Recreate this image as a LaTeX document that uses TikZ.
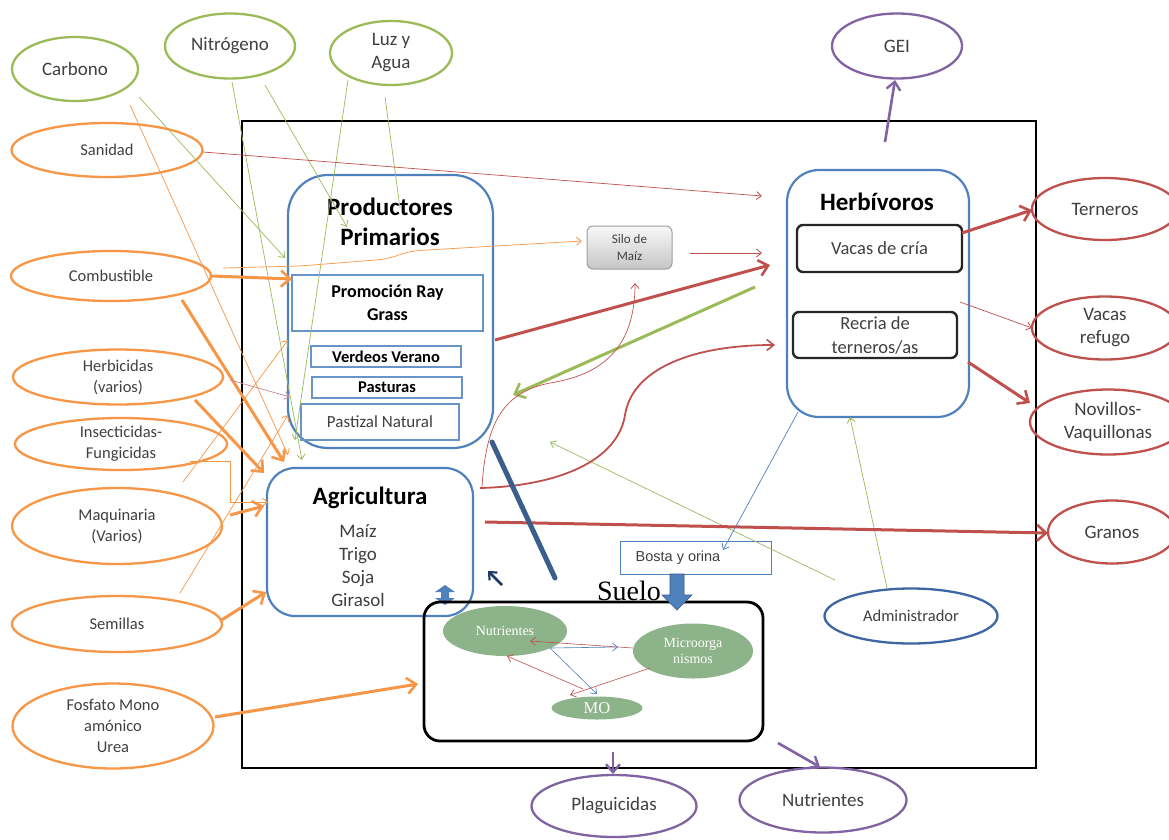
\documentclass[tikz,border=0pt]{standalone}
\usepackage{fontspec}
\setmainfont{Carlito}
\newfontfamily\serifx{Liberation Serif}
\newfontfamily\arialx{Liberation Sans}
\usetikzlibrary{shapes.geometric,arrows.meta,calc}
\definecolor{cgreen}{HTML}{9BBB59}
\definecolor{corange}{HTML}{F79646}
\definecolor{cpurple}{HTML}{8064A2}
\definecolor{cred}{HTML}{C0504D}
\definecolor{cblue}{HTML}{4F81BD}
\definecolor{cadmin}{HTML}{3E66A3}
\definecolor{csoil}{HTML}{8DB38A}
\definecolor{ctext}{HTML}{404040}
\definecolor{cnavy}{HTML}{1F3864}
\definecolor{csteel}{HTML}{3B5E8C}
\definecolor{cmauve}{HTML}{C58A97}
\begin{document}
\begin{tikzpicture}[x=1pt,y=-1pt,
  ell/.style={ellipse,draw,line width=2.3pt,inner sep=0pt},
  gell/.style={ell,draw=cgreen},
  oell/.style={ell,draw=corange},
  pell/.style={ell,draw=cpurple},
  rell/.style={ell,draw=cred},
  lab/.style={align=center,text=ctext,inner sep=0pt},
  glab/.style={lab,font=\fontsize{19}{23}\selectfont},
  olab/.style={lab,font=\fontsize{16.5}{21}\selectfont},
  rbox/.style={draw=cblue,line width=2.2pt,inner sep=0pt},
  ibox/.style={draw=cblue!85,line width=1.4pt,inner sep=0pt},
  kbox/.style={draw=black!85,line width=2.4pt,rounded corners=6pt,inner sep=0pt},
  tarr/.style={line width=0.7pt,-{Straight Barb[length=5pt,width=8pt,line width=0.8pt]}},
  marr/.style={line width=1.8pt,-{Straight Barb[length=7pt,width=11pt,line width=1.6pt]}},
  parr/.style={line width=2.6pt,-{Straight Barb[length=8pt,width=14pt,line width=2.4pt]}},
  karr/.style={line width=3pt,-{Straight Barb[length=9pt,width=16pt,line width=2.6pt]}},
  sarr/.style={line width=0.6pt,-{Straight Barb[length=5pt,width=8pt,line width=0.7pt]}}
]
\path[use as bounding box,fill=white] (0,0) rectangle (1169,839);

% frame
\node[draw,line width=2.5pt,minimum width=794pt,minimum height=647pt,inner sep=0pt] (frame) at (639,444.5) {};

% green inputs
\node[gell,minimum width=126pt,minimum height=64pt] (carb) at (75,69) {};
\node[glab] (carbt) at (carb) {Carbono};
\node[gell,minimum width=130pt,minimum height=65pt] (nitro) at (230,46) {};
\node[glab] (nitrot) at (nitro) {Nitrógeno};
\node[gell,minimum width=122pt,minimum height=64pt] (luz) at (391,53) {};
\node[glab] (luzt) at (luz) {Luz y\\Agua};

% orange inputs
\node[oell,minimum width=191pt,minimum height=54pt] (san) at (107,150) {};
\node[olab] (sant) at (san) {Sanidad};
\node[oell,minimum width=200pt,minimum height=50pt] (comb) at (111,276) {};
\node[olab] (combt) at (comb) {Combustible};
\node[oell,minimum width=210pt,minimum height=55pt] (herb) at (118,377) {};
\node[olab] (herbt) at (herb) {Herbicidas\\(varios)};
\node[oell,minimum width=212pt,minimum height=52pt] (insect) at (121,444) {};
\node[olab] (insectt) at (insect) {Insecticidas-\\Fungicidas};
\node[oell,minimum width=210pt,minimum height=76pt] (maq) at (117,526) {};
\node[olab] (maqt) at (maq) {Maquinaria\\(Varios)};
\node[oell,minimum width=210pt,minimum height=56pt] (sem) at (117,624) {};
\node[olab] (semt) at (sem) {Semillas};
\node[oell,minimum width=201pt,minimum height=85pt] (fosf) at (113,726) {};
\node[olab] (fosft) at (fosf) {Fosfato Mono\\amónico\\Urea};

% purple outputs
\node[pell,minimum width=130pt,minimum height=65pt] (gei) at (897,46) {};
\node[glab] (geit) at (gei) {GEI};
\node[pell,minimum width=165pt,minimum height=62pt] (plag) at (614,806) {};
\node[glab] (plagt) at (plag) {Plaguicidas};
\node[pell,minimum width=167pt,minimum height=65pt] (nutr) at (823,800) {};
\node[glab] (nutrt) at (nutr) {Nutrientes};

% red outputs
\node[rell,minimum width=146pt,minimum height=62pt] (tern) at (1105,209) {};
\node[glab] (ternt) at (tern) {Terneros};
\node[rell,minimum width=146pt,minimum height=63pt] (refugo) at (1105,328) {};
\node[glab] (refugot) at (refugo) {Vacas\\refugo};
\node[rell,minimum width=156pt,minimum height=65pt] (novi) at (1108,422) {};
\node[glab] (novit) at (novi) {Novillos-\\Vaquillonas};
\node[rell,minimum width=128pt,minimum height=63pt] (granos) at (1112,532) {};
\node[glab] (granost) at (granos) {Granos};

% administrador
\node[ell,draw=cadmin,minimum width=173pt,minimum height=55pt] (admin) at (911,616) {};
\node[olab] (admint) at (admin) {Administrador};

% Productores primarios
\node[rbox,rounded corners=40pt,minimum width=205pt,minimum height=273pt] (pp) at (390.5,311.5) {};
\node[align=center,font=\bfseries\fontsize{25}{30}\selectfont,inner sep=0pt] (ppt) at (390,222) {Productores\\Primarios};
\node[ibox,minimum width=191pt,minimum height=56pt,align=center,font=\bfseries\fontsize{18}{23}\selectfont] (promo) at (387.5,303) {Promoción Ray\\Grass};
\node[ibox,minimum width=150pt,minimum height=21pt,font=\bfseries\fontsize{16.5}{20}\selectfont] (verd) at (386,356.5) {Verdeos Verano};
\node[ibox,minimum width=150pt,minimum height=21pt,font=\bfseries\fontsize{16.5}{20}\selectfont] (past) at (387,387.5) {Pasturas};
\node[ibox,minimum width=158pt,minimum height=36pt,font=\fontsize{17}{20}\selectfont,text=ctext] (pastn) at (380,422) {Pastizal Natural};

% Herbivoros
\node[rbox,rounded corners=32pt,minimum width=182pt,minimum height=247pt] (herbi) at (878,293.5) {};
\node[font=\bfseries\fontsize{25}{30}\selectfont,inner sep=0pt] (herbit) at (877,202) {Herbívoros};
\node[kbox,minimum width=165pt,minimum height=47pt,font=\fontsize{18.5}{22}\selectfont,text=ctext] (vacas) at (879.5,248.5) {Vacas de cría};
\node[kbox,minimum width=164pt,minimum height=46pt,align=center,font=\fontsize{18.5}{24}\selectfont,text=ctext] (recria) at (875,335) {Recria de\\terneros/as};

% Silo
\node[draw=gray!75,line width=1pt,rounded corners=6pt,top color=gray!5,bottom color=gray!45,minimum width=85pt,minimum height=43pt,align=center,inner sep=0pt,font=\fontsize{13}{17}\selectfont,text=ctext] (silo) at (629.5,247.5) {Silo de\\Maíz};

% Agricultura
\node[rbox,rounded corners=28pt,minimum width=206pt,minimum height=148pt] (agri) at (370,542) {};
\node[font=\bfseries\fontsize{25}{30}\selectfont,inner sep=0pt] (agrit) at (370,498) {Agricultura};
\node[align=center,font=\fontsize{19}{23}\selectfont,text=ctext,inner sep=0pt] (crops) at (358,565.5) {Maíz\\Trigo\\Soja\\Girasol};
\fill[cblue] (435,592) -- (445,585) -- (455,592) -- (449,592) -- (449,598) -- (455,598) -- (445,605) -- (435,598) -- (441,598) -- (441,592) -- cycle;

% Bosta y orina
\node[draw=cblue,line width=0.8pt,minimum width=151pt,minimum height=33pt,inner sep=0pt] (bosta) at (695.5,557.5) {};
\node[font=\arialx\fontsize{14.5}{17}\selectfont,text=ctext,inner sep=0pt] (bostat) at (678,558) {Bosta y orina};

% Suelo
\node[draw,line width=2.8pt,rounded corners=16pt,minimum width=339pt,minimum height=139pt,inner sep=0pt] (suelo) at (593.5,671.5) {};
\node[font=\serifx\fontsize{28}{30}\selectfont,inner sep=0pt] (suelot) at (629,591) {Suelo};
\node[ellipse,fill=csoil,minimum width=124pt,minimum height=50pt,inner sep=0pt,text=white,font=\serifx\fontsize{14}{16}\selectfont] (sn) at (505,631) {Nutrientes};
\node[ellipse,fill=csoil,minimum width=120pt,minimum height=55pt,inner sep=0pt] (sm) at (693,651) {};
\node[align=center,text=white,font=\serifx\fontsize{14}{16}\selectfont,inner sep=0pt] (smt) at (sm) {Microorga\\nismos};
\node[ellipse,fill=csoil,minimum width=91pt,minimum height=23pt,inner sep=0pt,text=white,font=\serifx\fontsize{16.5}{18}\selectfont] (smo) at (597,708) {MO};

% block arrow Bosta -> Suelo
\fill[cblue,draw=cblue!70!black,line width=0.6pt] (670,574) -- (684,574) -- (684,595) -- (692,595) -- (677,610) -- (662,595) -- (670,595) -- cycle;

% soil internal arrows
\draw[sarr,cred] ($(sm)+(-60,-3)$) -- ($(sn)+(25,10)$);
\draw[sarr,cblue] ($(sn)+(45,17)$) -- ($(sm)+(-75,-4)$);
\draw[sarr,cblue] ($(sn)+(45,17)$) -- ($(smo)+(0,-14)$);
\draw[sarr,cred] ($(smo)+(-14,-19)$) -- ($(sn)+(2,25)$);
\draw[sarr,cred,{Straight Barb[length=5pt,width=8pt,line width=0.7pt]}-] ($(smo)+(-27,-13)$) -- ($(sm)+(-43,17)$);

% green connectors
\draw[tarr,cgreen] ($(carb)+(64,28)$) -- ($(pp)+(-105.5,-53.5)$);
\draw[tarr,cgreen] ($(nitro)+(2,36)$) -- ($(agri)+(-68,-82)$);
\draw[tarr,cgreen] ($(nitro)+(35,39)$) -- ($(pp)+(-43.5,-84.5)$);
\draw[tarr,cgreen] ($(luz)+(-43,27)$) -- ($(pp)+(-95.5,128.5)$);
\draw[line width=0.7pt,cgreen] ($(luz)+(-6,44)$) -- ($(pp)+(9.5,-103.5)$);
\draw[karr,cgreen] ($(herbi)+(-123,-6.5)$) -- ($(pp)+(122.5,83.5)$);
\draw[tarr,cgreen] ($(admin)+(-24,-28)$) -- ($(herbi)+(-28,123.5)$);
\coordinate (g8end) at (550,442);
\draw[tarr,cgreen] ($(admin)+(-76,-36)$) -- (g8end);

% orange connectors
\draw[tarr,corange] ($(carb)+(55,36)$) -- ($(agri)+(-82,-87)$);
\draw[karr,corange] ($(comb)+(101,0)$) -- ($(pp)+(-98.5,-32.5)$);
\draw[karr,corange] ($(comb)+(71,24)$) -- ($(agri)+(-86,-80)$);
\draw[karr,corange] ($(herb)+(77,23)$) -- ($(agri)+(-106,-69)$);
\draw[tarr,corange] ($(insect)+(62,38)$) -- ($(pp)+(-102.5,28.5)$);
\coordinate (o7s) at (180,593);
\draw[tarr,corange] (o7s) -- ($(pp)+(-102.5,103.5)$);
\draw[tarr,corange] ($(insect)+(69,17)$) -- ++(40,0) |- ($(agri)+(-102,-40)$);
\draw[karr,corange] ($(maq)+(113,-11)$) -- ($(agri)+(-106,-36)$);
\draw[karr,corange] ($(sem)+(103,-3)$) -- ($(agri)+(-104,50)$);
\draw[karr,corange] ($(fosf)+(102,-9)$) -- ($(suelo)+(-175.5,12.5)$);
\draw[tarr,corange,rounded corners=10pt] ($(comb)+(112,-8)$) -- (300,266) -- (388,259) -- (410,251) -- ($(silo)+(-47.5,-6.5)$);
\draw[tarr,cmauve] ($(herb)+(112,3)$) -- ($(pp)+(-100.5,85.5)$);

% red connectors
\draw[tarr,cred] ($(san)+(96,2)$) -- ($(herbi)+(-116,-97.5)$);
\draw[karr,cred] ($(pp)+(104.5,28.5)$) -- ($(herbi)+(-108,-28.5)$);
\draw[tarr,cred] ($(silo)+(60.5,5.5)$) -- ($(herbi)+(-116,-40.5)$);
\draw[tarr,cred] ($(agri)+(112,-55)$) .. controls (486,420) and (505,392) .. (550,383) .. controls (600,375) and (635,350) .. ($(silo)+(5.5,35.5)$);
\draw[marr,cred] ($(agri)+(110,-54)$) .. controls (560,486) and (618,460) .. (625,415) .. controls (632,370) and (690,345) .. ($(recria)+(-100,10)$);
\draw[karr,cred] ($(agri)+(115,-20)$) -- ($(granos)+(-64,1)$);
\draw[karr,cred] ($(vacas)+(82.5,-15.5)$) -- ($(tern)+(-73,1)$);
\draw[tarr,cred] ($(herbi)+(82,8.5)$) -- ($(refugo)+(-73,0)$);
\draw[karr,cred] ($(recria)+(93,27)$) -- ($(novi)+(-78,-19)$);

% blue connectors
\draw[tarr,cblue] ($(herbi)+(-80,118.5)$) -- ($(bosta)+(27.5,-7.5)$);
\draw[csteel,line width=5pt,line cap=round] ($(pp)+(101.5,130.5)$) -- ($(suelo)+(-38.5,-93.5)$);
\coordinate (nv1) at (502,585);
\coordinate (nv2) at (488,571);
\draw[cnavy,line width=2.5pt,-{Straight Barb[length=6pt,width=11pt,line width=2.2pt]}] (nv1) -- (nv2);

% purple connectors
\draw[parr,cpurple] ($(herbi)+(7,-151.5)$) -- ($(gei)+(-2,34)$);
\draw[parr,cpurple] ($(suelo)+(19.5,80.5)$) -- ($(plag)+(-1,-32)$);
\draw[parr,cpurple] ($(suelo)+(184.5,71.5)$) -- ($(nutr)+(-3,-33)$);
\end{tikzpicture}
\end{document}
